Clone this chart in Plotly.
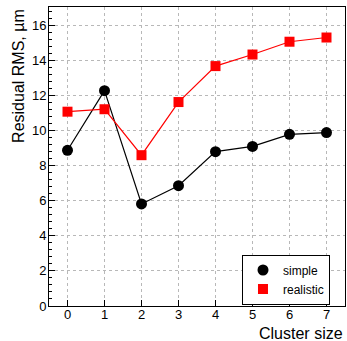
import plotly.graph_objects as go

cluster_size = [0, 1, 2, 3, 4, 5, 6, 7]
simple_rms = [8.88, 12.28, 5.82, 6.86, 8.8, 9.1, 9.79, 9.89]
realistic_rms = [11.08, 11.22, 8.6, 11.63, 13.68, 14.34, 15.07, 15.31]
x_ticks = [0, 1, 2, 3, 4, 5, 6, 7]
y_ticks = [0, 2, 4, 6, 8, 10, 12, 14, 16]

FONT = "Liberation Sans, Arial, sans-serif"

fig = go.Figure()
# connecting lines (not in legend)
fig.add_trace(go.Scatter(
    x=cluster_size, y=simple_rms, mode="lines", showlegend=False,
    line=dict(color="black", width=1.2), hoverinfo="skip",
))
fig.add_trace(go.Scatter(
    x=cluster_size, y=realistic_rms, mode="lines", showlegend=False,
    line=dict(color="#ff0000", width=1.2), hoverinfo="skip",
))
# markers (in legend)
fig.add_trace(go.Scatter(
    x=cluster_size, y=simple_rms, name="simple", mode="markers",
    marker=dict(symbol="circle", size=11, color="black"),
))
fig.add_trace(go.Scatter(
    x=cluster_size, y=realistic_rms, name="realistic", mode="markers",
    marker=dict(symbol="square", size=10, color="#ff0000"),
))

fig.update_layout(
    width=347, height=341,
    margin=dict(l=49, r=2, t=7, b=35),
    paper_bgcolor="white", plot_bgcolor="white",
    font=dict(family=FONT, size=13, color="black"),
    showlegend=True,
    legend=dict(
        x=0.652, y=0.005, xanchor="left", yanchor="bottom",
        bgcolor="white", bordercolor="black", borderwidth=1,
        font=dict(family=FONT, size=12, color="black"),
        itemwidth=30, tracegroupgap=0,
    ),
    xaxis=dict(
        range=[-0.5, 7.5], tickvals=x_ticks, ticktext=[str(v) for v in x_ticks],
        ticks="inside", ticklen=6, tickcolor="black", tickwidth=1,
        showline=True, linecolor="black", linewidth=1, mirror=True,
        showgrid=True, gridcolor="#b8b8b8", griddash="dot", gridwidth=1,
        zeroline=False, ticklabelstandoff=-4,
    ),
    yaxis=dict(
        range=[0, 17.05], tickvals=y_ticks, ticktext=[str(v) for v in y_ticks],
        ticks="inside", ticklen=6, tickcolor="black", tickwidth=1,
        minor=dict(dtick=0.4, tick0=0, ticks="inside", ticklen=3, tickcolor="black", showgrid=False),
        showline=True, linecolor="black", linewidth=1, mirror=True,
        showgrid=True, gridcolor="#b8b8b8", griddash="dot", gridwidth=1,
        zeroline=False, ticklabelstandoff=-1,
    ),
    annotations=[
        dict(text="Residual RMS, µm", xref="paper", yref="paper",
             x=-0.105, y=1.0, xanchor="center", yanchor="top", textangle=-90,
             showarrow=False, font=dict(family=FONT, size=16, color="black")),
        dict(text="Cluster size", xref="paper", yref="paper",
             x=1.0, y=-0.093, xanchor="right", yanchor="middle",
             showarrow=False, font=dict(family=FONT, size=16, color="black")),
    ],
)

fig.write_html("out.html")
